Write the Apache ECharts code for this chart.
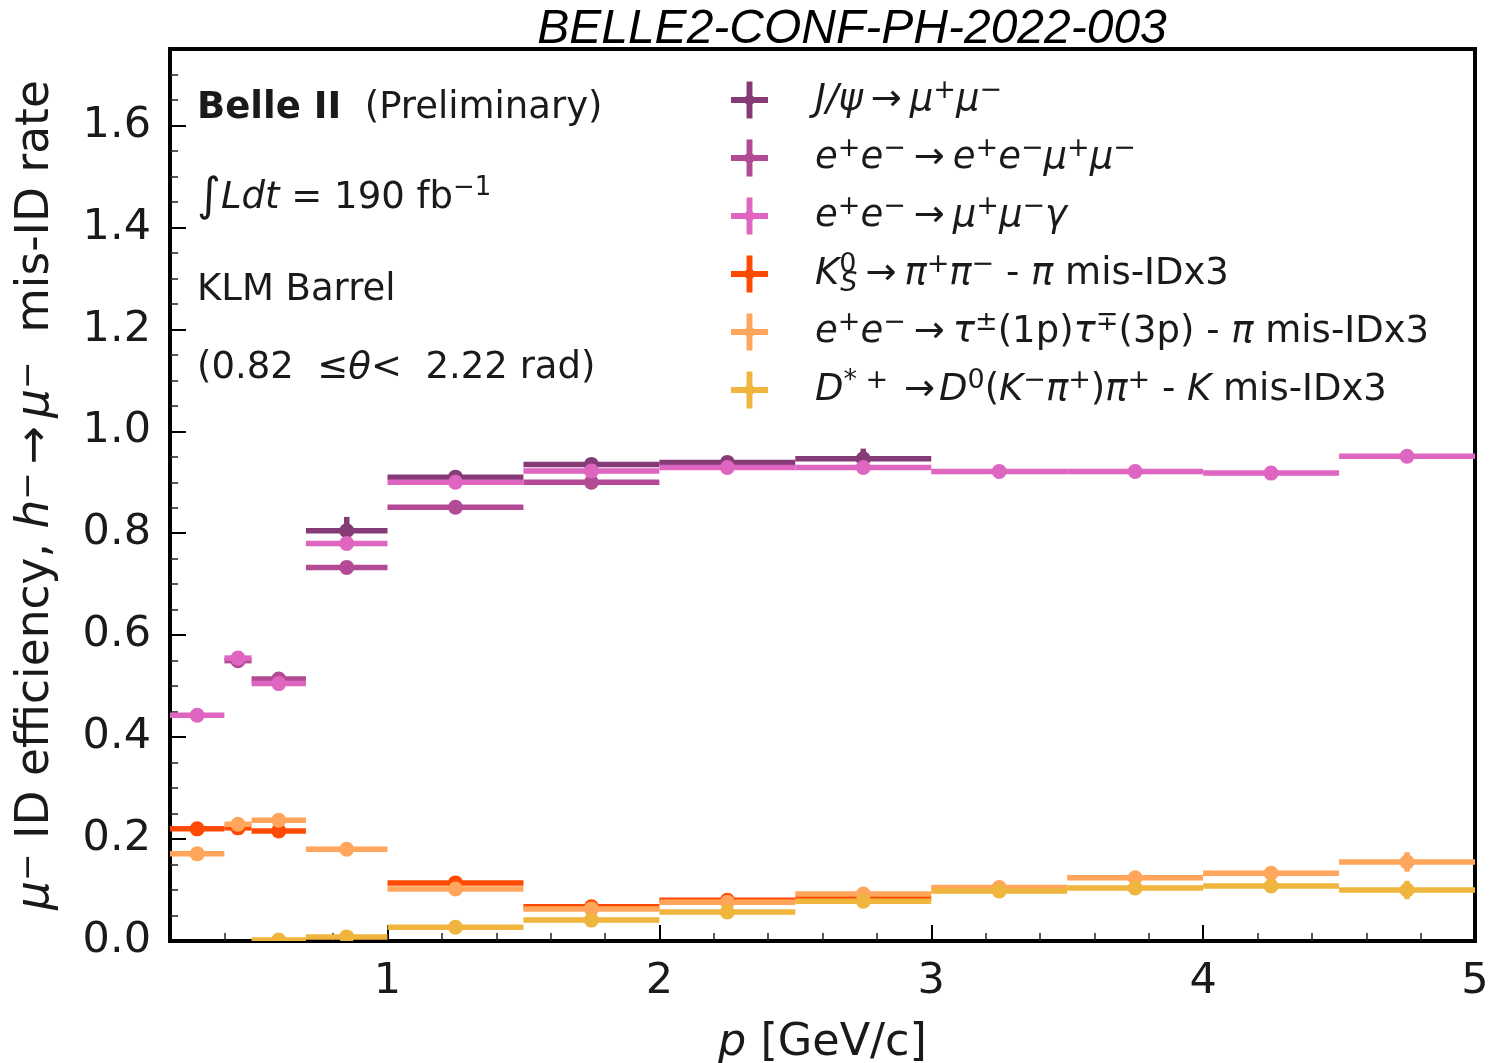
<!DOCTYPE html>
<html>
<head>
<meta charset="utf-8">
<script src="https://cdn.jsdelivr.net/npm/echarts@6/dist/echarts.min.js"></script>
<style>
  html, body { margin: 0; padding: 0; background: #ffffff; }
  #chart { width: 1491px; height: 1063px; }
</style>
</head>
<body>
<div id="chart"></div>
<script>
// Momentum bins [GeV/c]
const binLo = [0.2, 0.4, 0.5, 0.7, 1.0, 1.5, 2.0, 2.5, 3.0, 3.5, 4.0, 4.5];
const binHi = [0.4, 0.5, 0.7, 1.0, 1.5, 2.0, 2.5, 3.0, 3.5, 4.0, 4.5, 5.0];

// Muon ID efficiency per bin (null: no entry in that bin)
const jpsiVal    = [null, null, null, 0.805, 0.910, 0.935, 0.939, 0.946, null, null, null, null];
const jpsiErr    = [0, 0, 0, 0.027, 0.004, 0.004, 0.004, 0.020, 0, 0, 0, 0];
const eemumuVal  = [null, 0.550, 0.514, 0.733, 0.851, 0.900, null, null, null, null, null, null];
const eemumuErr  = [0, 0.004, 0.004, 0.004, 0.004, 0.004, 0, 0, 0, 0, 0, 0];
const mumugVal   = [0.443, 0.555, 0.505, 0.780, 0.900, 0.922, 0.929, 0.929, 0.921, 0.921, 0.918, 0.951];
const mumugErr   = [0.003, 0.003, 0.003, 0.003, 0.002, 0.002, 0.002, 0.002, 0.002, 0.003, 0.003, 0.003];

// Hadron mis-ID rates (x3) per bin
const ksVal      = [0.220, 0.222, 0.216, null, 0.114, 0.067, 0.080, 0.084, null, null, null, null];
const ksErr      = [0.003, 0.003, 0.003, 0, 0.003, 0.003, 0.003, 0.004, 0, 0, 0, 0];
const tauVal     = [0.171, 0.229, 0.237, 0.180, 0.102, 0.063, 0.076, 0.092, 0.105, 0.124, 0.133, 0.155];
const tauErr     = [0.003, 0.003, 0.003, 0.003, 0.003, 0.003, 0.003, 0.004, 0.005, 0.006, 0.008, 0.019];
const dstarVal   = [null, null, 0.002, 0.008, 0.027, 0.041, 0.057, 0.078, 0.098, 0.104, 0.108, 0.100];
const dstarErr   = [0, 0, 0.002, 0.002, 0.002, 0.002, 0.003, 0.003, 0.004, 0.005, 0.007, 0.018];

// Axis tick labels
const xTicks = [1, 2, 3, 4, 5];
const yTicks = [0, 0.2, 0.4, 0.6, 0.8, 1.0, 1.2, 1.4, 1.6];

const FONT = 'DejaVu Sans';
const INK = '#1a1a1a';

// minor tick positions: every 0.2 on x, every 0.05 on y
const xMinor = [];
for (let k = 2; k < 25; k++) if (k % 5 !== 0) xMinor.push(k / 5);
const yMinor = [];
for (let k = 1; k < 35; k++) if (k % 4 !== 0) yMinor.push(k / 20);

function binRows(vals, errs) {
  const out = [];
  for (let k = 0; k < binLo.length; k++) {
    if (vals[k] == null) continue;
    out.push([binLo[k], binHi[k], vals[k], errs[k]]);
  }
  return out;
}

// one bin: horizontal bar over the bin width, vertical error bar, dot at the centre
function renderBin(params, api) {
  const lo = api.value(0), hi = api.value(1), v = api.value(2), e = api.value(3);
  const mid = (lo + hi) / 2;
  const a = api.coord([lo, v]), b = api.coord([hi, v]), c = api.coord([mid, v]);
  const color = api.visual('color');
  const children = [{
    type: 'line',
    shape: { x1: a[0], y1: a[1], x2: b[0], y2: b[1] },
    style: { stroke: color, lineWidth: 5.5 }
  }];
  if (e > 0) {
    const t = api.coord([mid, v + e]), d = api.coord([mid, v - e]);
    children.push({
      type: 'line',
      shape: { x1: t[0], y1: t[1], x2: d[0], y2: d[1] },
      style: { stroke: color, lineWidth: 5.5 }
    });
  }
  children.push({ type: 'circle', shape: { cx: c[0], cy: c[1], r: 7.5 }, style: { fill: color } });
  return { type: 'group', children: children };
}

const seriesDefs = [
  { name: 'jpsi',   color: '#843b76', vals: jpsiVal,   errs: jpsiErr,
    label: '{i|J/ψ}{a|→}{i|μ}{s|+}{i|μ}{s|−}' },
  { name: 'eemumu', color: '#b34a96', vals: eemumuVal, errs: eemumuErr,
    label: '{i|e}{s|+}{i|e}{s|−}{a|→}{i|e}{s|+}{i|e}{s|−}{i|μ}{s|+}{i|μ}{s|−}' },
  { name: 'mumug',  color: '#de65c0', vals: mumugVal,  errs: mumugErr,
    label: '{i|e}{s|+}{i|e}{s|−}{a|→}{i|μ}{s|+}{i|μ}{s|−}{i|γ}' },
  { name: 'ks',     color: '#ff4a03', vals: ksVal,     errs: ksErr,
    label: '{i|K}{z|0}{b|S}{a|→}{i|π}{s|+}{i|π}{s|−}{n| - }{i|π}{n| mis-IDx3}' },
  { name: 'tau',    color: '#ffa65c', vals: tauVal,    errs: tauErr,
    label: '{i|e}{s|+}{i|e}{s|−}{a|→}{i|τ}{s|±}{n|(1p)}{i|τ}{s|∓}{n|(3p) - }{i|π}{n| mis-IDx3}' },
  { name: 'dstar',  color: '#f0b53c', vals: dstarVal,  errs: dstarErr,
    label: '{i|D}{s|* +}{r| →}{i|D}{s|0}{n|(}{i|K}{s|−}{i|π}{s|+}{n|)}{i|π}{s|+}{n| - }{i|K}{n| mis-IDx3}' }
];

const legendLabels = {};
seriesDefs.forEach(function (d) { legendLabels[d.name] = d.label; });

const mathRich = {
  n: { fontFamily: FONT, fontSize: 37, lineHeight: 46, color: INK },
  i: { fontFamily: FONT, fontSize: 37, lineHeight: 46, color: INK, fontStyle: 'italic' },
  a: { fontFamily: FONT, fontSize: 37, lineHeight: 46, color: INK, padding: [0, 8, 0, 8] },
  r: { fontFamily: FONT, fontSize: 37, lineHeight: 46, color: INK, padding: [0, 4, 0, 4] },
  s: { fontFamily: FONT, fontSize: 27, lineHeight: 26, color: INK, verticalAlign: 'top' },
  z: { fontFamily: FONT, fontSize: 27, lineHeight: 26, color: INK, verticalAlign: 'top', width: 1 },
  b: { fontFamily: FONT, fontSize: 27, lineHeight: 22, color: INK, verticalAlign: 'bottom', fontStyle: 'italic' }
};

// cross-shaped legend key
const crossIcon = 'path://M0,42 L42,42 L42,0 L58,0 L58,42 L100,42 L100,58 L58,58 L58,100 L42,100 L42,58 L0,58 Z M50,30 L70,50 L50,70 L30,50 Z';

const axisRich = {
  n: { fontFamily: FONT, fontSize: 45.5, color: INK },
  i: { fontFamily: FONT, fontSize: 45.5, color: INK, fontStyle: 'italic' },
  a: { fontFamily: FONT, fontSize: 45.5, color: INK, padding: [0, 8, 0, 8] },
  s: { fontFamily: FONT, fontSize: 33, color: INK, verticalAlign: 'top', lineHeight: 30 }
};

const xNameRich = {
  n: { fontFamily: FONT, fontSize: 44.5, color: INK },
  i: { fontFamily: FONT, fontSize: 44.5, color: INK, fontStyle: 'italic' }
};

const textRich = {
  n: { fontFamily: FONT, fontSize: 37, lineHeight: 46, fill: INK, color: INK },
  bo: { fontFamily: FONT, fontSize: 37, lineHeight: 46, fill: INK, color: INK, fontWeight: 'bold' },
  i: { fontFamily: FONT, fontSize: 37, lineHeight: 46, fill: INK, color: INK, fontStyle: 'italic' },
  int: { fontFamily: FONT, fontSize: 46, lineHeight: 46, fill: INK, color: INK },
  s: { fontFamily: FONT, fontSize: 26, lineHeight: 26, fill: INK, color: INK, verticalAlign: 'top' }
};

function note(x, y, text) {
  return {
    type: 'text', x: x, y: y, silent: true,
    style: {
      text: text, rich: textRich, fill: INK,
      font: '37px "DejaVu Sans"',
      textAlign: 'left', align: 'left',
      textVerticalAlign: 'middle', verticalAlign: 'middle'
    }
  };
}

const option = {
  animation: false,
  backgroundColor: '#ffffff',
  grid: {
    left: 170, right: 16, top: 49, bottom: 122,
    outerBoundsMode: 'none', containLabel: false,
    show: true, borderColor: '#000000', borderWidth: 4, backgroundColor: 'transparent'
  },
  legend: {
    orient: 'vertical', left: 731, top: 77, padding: 0,
    itemWidth: 37, itemHeight: 37, itemGap: 12,
    selectedMode: false, icon: crossIcon,
    data: seriesDefs.map(function (d) { return d.name; }),
    formatter: function (name) { return legendLabels[name]; },
    textStyle: {
      fontFamily: FONT, fontSize: 37, color: INK, height: 46, lineHeight: 46,
      padding: [0, 0, 0, 42], rich: mathRich
    }
  },
  xAxis: [{
    type: 'value', min: 0.2, max: 5, position: 'bottom',
    axisLine: { show: false }, splitLine: { show: false },
    axisTick: { inside: true, length: 16, customValues: xTicks, lineStyle: { color: '#000', width: 2 } },
    axisLabel: { customValues: xTicks, fontSize: 43, fontFamily: FONT, color: INK, margin: 19 },
    name: '{i|p}{n| [GeV/c]}', nameLocation: 'middle', nameGap: 80,
    nameTextStyle: { rich: xNameRich, fontSize: 44.5, fontFamily: FONT, color: INK }
  }, {
    type: 'value', min: 0.2, max: 5, position: 'bottom',
    axisLine: { show: false }, splitLine: { show: false }, axisLabel: { show: false },
    axisTick: { inside: true, length: 8, customValues: xMinor, lineStyle: { color: '#222', width: 1.5 } }
  }],
  yAxis: [{
    type: 'value', min: 0, max: 1.75, position: 'left',
    axisLine: { show: false }, splitLine: { show: false },
    axisTick: { inside: true, length: 16, customValues: yTicks, lineStyle: { color: '#000', width: 2 } },
    axisLabel: {
      customValues: yTicks, fontSize: 43, fontFamily: FONT, color: INK, margin: 19,
      formatter: function (v) { return v.toFixed(1); }
    },
    name: '{i|μ}{s|−}{n| ID efficiency, }{i|h}{s|−}{a|→}{i|μ}{s|−}{n|  mis-ID rate}',
    nameLocation: 'middle', nameRotate: 90, nameGap: 111,
    nameTextStyle: { rich: axisRich, fontSize: 45.5, fontFamily: FONT, color: INK }
  }, {
    type: 'value', min: 0, max: 1.75, position: 'left',
    axisLine: { show: false }, splitLine: { show: false }, axisLabel: { show: false },
    axisTick: { inside: true, length: 8, customValues: yMinor, lineStyle: { color: '#222', width: 1.5 } }
  }],
  series: seriesDefs.map(function (d) {
    return {
      type: 'custom', name: d.name, xAxisIndex: 0, yAxisIndex: 0,
      clip: true,
      itemStyle: { color: d.color },
      encode: { x: [0, 1], y: 2 },
      data: binRows(d.vals, d.errs),
      renderItem: renderBin
    };
  }),
  graphic: [
    {
      type: 'text', x: 852, y: 30, silent: true,
      style: {
        text: 'BELLE2-CONF-PH-2022-003', fill: '#000',
        font: 'italic 48px "Liberation Sans"',
        textAlign: 'center', align: 'center',
        textVerticalAlign: 'middle', verticalAlign: 'middle'
      }
    },
    note(197, 108, '{bo|Belle II}{n|  (Preliminary)}'),
    note(197, 198, '{int|∫}{i|Ldt}{n| = 190 fb}{s|−1}'),
    note(197, 290, '{n|KLM Barrel}'),
    note(197, 368, '{n|(0.82  ≤}{i|θ}{n|<  2.22 rad)}')
  ]
};

const chart = echarts.init(document.getElementById('chart'), null, { renderer: 'canvas' });
chart.setOption(option);
</script>
</body>
</html>
